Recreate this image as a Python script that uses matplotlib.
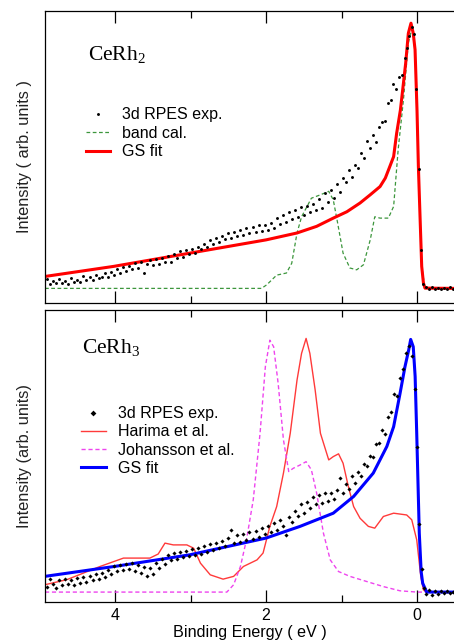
import matplotlib
matplotlib.use('Agg')
import matplotlib.pyplot as plt
from matplotlib.ticker import FixedLocator

plt.rcParams['font.family'] = ['Liberation Sans', 'DejaVu Sans']
plt.rcParams['mathtext.fontset'] = 'custom'
plt.rcParams['mathtext.rm'] = 'Liberation Serif'

""" CeRh2 (top panel) - intensities in arb. units, peak ~ 100 """
rh2_fit_E = [4.93, 4.02, 3.01, 2.00, 1.59, 1.33, 1.11, 0.93, 0.755, 0.62, 0.49, 0.42, 0.36, 0.31,
             0.27, 0.22, 0.18, 0.15, 0.115, 0.08, 0.05, 0.026, 0.0, -0.018, -0.04, -0.062, -0.085,
             -0.106, -0.49]
rh2_fit_I = [4.5, 8.3, 13.3, 18.3, 20.9, 23.4, 26.5, 28.9, 32.2, 35.3, 38.4, 41.6, 46.0, 49.7,
             58.5, 67.3, 77.4, 85.0, 96.2, 100.0, 96.2, 90.0, 67.0, 46.0, 27.0, 8.3, 2.0,
             0.1, 0.0]

rh2_band_E = [4.93, 2.06, 1.99, 1.86, 1.73, 1.66, 1.59, 1.53, 1.40, 1.28, 1.17, 1.11, 1.06, 0.98,
              0.89, 0.80, 0.71, 0.62, 0.56, 0.49, 0.38, 0.31, 0.25, 0.18, 0.115, 0.07, 0.026,
              -0.018, -0.062, -0.106, -0.49]
rh2_band_I = [0.0, 0.0, 1.4, 5.0, 5.8, 9.5, 20.9, 27.0, 34.0, 35.3, 36.6, 33.4, 25.9, 13.3,
              7.7, 7.0, 8.9, 18.3, 27.0, 26.5, 26.5, 30.9, 52.3, 71.1, 92.5, 98.0, 90.0,
              46.0, 8.3, 0.0, 0.0]

rh2_exp_E = [4.90, 4.86, 4.82, 4.78, 4.74, 4.70, 4.66, 4.62, 4.58, 4.54, 4.50, 4.46, 4.42, 4.38,
             4.34, 4.30, 4.26, 4.22, 4.18, 4.14, 4.10, 4.06, 4.02, 3.98, 3.94, 3.90, 3.86, 3.82,
             3.78, 3.74, 3.70, 3.66, 3.62, 3.58, 3.54, 3.50, 3.46, 3.42, 3.38, 3.34, 3.30, 3.26,
             3.22, 3.18, 3.14, 3.10, 3.06, 3.02, 2.98, 2.94, 2.90, 2.86, 2.82, 2.78, 2.74, 2.70,
             2.66, 2.62, 2.58, 2.54, 2.50, 2.46, 2.42, 2.38, 2.34, 2.30, 2.26, 2.22, 2.18, 2.14,
             2.10, 2.06, 2.02, 1.98, 1.94, 1.90, 1.86, 1.82, 1.78, 1.74, 1.70, 1.66, 1.62, 1.58,
             1.54, 1.50, 1.46, 1.42, 1.38, 1.34, 1.30, 1.26, 1.22, 1.18, 1.14, 1.10, 1.06, 1.02,
             0.98, 0.94, 0.90, 0.86, 0.82, 0.78, 0.74, 0.70, 0.66, 0.62, 0.58, 0.54, 0.50, 0.46,
             0.42, 0.38, 0.35, 0.32, 0.28, 0.24, 0.20, 0.16, 0.13, 0.10, 0.07, 0.04, 0.01, -0.02,
             -0.05, -0.08, -0.12, -0.16, -0.20, -0.24, -0.28, -0.32, -0.36, -0.40, -0.44, -0.48]
rh2_exp_I = [3.5, 1.8, 2.9, 1.9, 3.6, 2.2, 2.8, 1.7, 3.9, 2.4, 3.3, 2.5, 4.6, 3.1,
             4.4, 3.0, 5.2, 3.8, 4.2, 5.9, 4.3, 6.3, 5.1, 7.2, 5.8, 7.9, 6.6, 8.6,
             7.3, 9.4, 7.6, 9.8, 5.9, 9.1, 10.6, 8.7, 10.9, 9.3, 11.4, 9.9, 12.2, 10.0,
             12.8, 11.6, 14.1, 12.0, 14.5, 13.0, 15.0, 13.4, 15.6, 14.8, 16.9, 15.5, 18.3, 16.6,
             19.0, 17.4, 19.8, 18.6, 20.7, 18.9, 21.4, 19.6, 22.0, 20.2, 22.6, 21.0, 23.1, 21.3,
             23.8, 21.8, 23.9, 22.1, 24.8, 22.9, 26.4, 24.3, 27.6, 25.2, 28.8, 26.0, 29.5, 27.0,
             30.6, 27.6, 31.2, 28.7, 32.0, 29.4, 33.6, 30.2, 35.8, 32.4, 37.0, 34.2, 39.2, 36.4,
             41.6, 40.0, 44.6, 42.0, 46.6, 45.4, 50.9, 49.0, 55.6, 52.8, 57.8, 55.2, 60.9, 62.8,
             63.2, 69.8, 71.0, 77.0, 75.0, 79.8, 80.5, 87.0, 90.8, 95.0, 98.6, 96.0, 75.0, 45.0,
             14.6, 1.5, 0.4, -0.3, 0.5, -0.2, 0.3, -0.4, 0.2, -0.3, 0.4, -0.1]

""" CeRh3 (bottom panel) """
rh3_fit_E = [4.93, 4.01, 3.01, 2.00, 1.55, 1.11, 0.84, 0.58, 0.40, 0.31, 0.225, 0.16, 0.11,
             0.084, 0.05, 0.025, 0.004, -0.03, -0.055, -0.075, -0.128, -0.49]
rh3_fit_I = [6.2, 10.1, 14.7, 21.3, 25.9, 31.1, 37.7, 46.9, 57.4, 65.2, 78.3, 88.8, 95.5,
             99.6, 96.7, 85.0, 62.6, 23.2, 8.0, 3.5, 0.0, 0.0]

harima_E = [4.93, 4.64, 4.20, 3.89, 3.54, 3.43, 3.34, 3.23, 3.05, 2.96, 2.87, 2.74, 2.57, 2.43,
            2.30, 2.12, 2.04, 1.95, 1.86, 1.77, 1.68, 1.59, 1.53, 1.47, 1.42, 1.35, 1.28, 1.17,
            1.11, 1.04, 0.98, 0.91, 0.84, 0.755, 0.645, 0.56, 0.446, 0.31, 0.137, 0.07, 0.004,
            -0.05, -0.084, -0.12, -0.49]
harima_I = [2.9, 4.9, 10.1, 13.4, 13.4, 15.0, 19.3, 18.6, 18.6, 17.3, 11.4, 6.8, 5.1, 6.2,
            10.1, 12.7, 15.4, 25.9, 33.7, 46.9, 62.6, 83.6, 94.1, 100.0, 94.1, 79.7, 62.6, 52.1,
            53.4, 54.5, 50.8, 41.6, 33.7, 29.1, 25.9, 25.2, 29.8, 31.1, 30.4, 28.5, 20.6,
            6.2, 0.9, 0.0, 0.0]

johansson_E = [4.93, 2.52, 2.43, 2.34, 2.26, 2.17, 2.08, 2.01, 1.95, 1.90, 1.84, 1.77, 1.70,
               1.64, 1.55, 1.47, 1.40, 1.33, 1.24, 1.15, 1.04, 0.89, 0.67, 0.45, 0.225, 0.0, -0.49]
johansson_I = [0.0, 0.0, 2.9, 10.1, 20.6, 36.4, 62.6, 88.8, 99.3, 96.7, 82.2, 60.0, 47.5,
               48.8, 50.1, 51.4, 48.2, 39.0, 23.2, 12.7, 8.1, 6.2, 4.2, 2.2, 0.5, 0.0, 0.0]

rh3_exp_E = [4.90, 4.86, 4.82, 4.78, 4.74, 4.70, 4.66, 4.62, 4.58, 4.54, 4.50, 4.46, 4.42, 4.38,
             4.34, 4.30, 4.26, 4.22, 4.18, 4.14, 4.10, 4.06, 4.02, 3.98, 3.94, 3.90, 3.86, 3.82,
             3.78, 3.74, 3.70, 3.66, 3.62, 3.58, 3.54, 3.50, 3.46, 3.42, 3.38, 3.34, 3.30, 3.26,
             3.22, 3.18, 3.14, 3.10, 3.06, 3.02, 2.98, 2.94, 2.90, 2.86, 2.82, 2.78, 2.74, 2.70,
             2.66, 2.62, 2.58, 2.54, 2.50, 2.46, 2.42, 2.38, 2.34, 2.30, 2.26, 2.22, 2.18, 2.14,
             2.10, 2.06, 2.02, 1.98, 1.94, 1.90, 1.86, 1.82, 1.78, 1.74, 1.70, 1.66, 1.62, 1.58,
             1.54, 1.50, 1.46, 1.42, 1.38, 1.34, 1.30, 1.26, 1.22, 1.18, 1.14, 1.10, 1.06, 1.02,
             0.98, 0.94, 0.90, 0.86, 0.82, 0.78, 0.74, 0.70, 0.66, 0.62, 0.58, 0.54, 0.50, 0.46,
             0.42, 0.38, 0.34, 0.30, 0.26, 0.22, 0.18, 0.14, 0.10, 0.06, 0.03, 0.00, -0.03, -0.06,
             -0.09, -0.12, -0.16, -0.20, -0.24, -0.28, -0.32, -0.36, -0.40, -0.44, -0.48]
rh3_exp_I = [2.0, 5.1, 3.0, 1.8, 4.6, 2.6, 5.0, 3.2, 4.9, 2.9, 5.6, 3.6, 6.0, 4.0,
             6.5, 4.6, 7.0, 5.3, 7.6, 5.8, 8.9, 7.0, 10.1, 8.2, 10.8, 8.6, 11.2, 9.0,
             11.4, 8.3, 10.6, 7.5, 9.9, 6.4, 9.6, 7.2, 11.6, 9.3, 13.1, 11.2, 14.6, 12.5,
             15.3, 13.2, 15.9, 13.8, 16.3, 14.2, 16.9, 14.8, 17.2, 15.1, 18.0, 15.9, 18.8, 16.7,
             19.4, 17.2, 20.0, 18.1, 21.2, 24.5, 19.3, 22.4, 19.9, 23.0, 20.6, 23.6, 21.0, 24.1,
             21.7, 25.4, 22.9, 26.0, 23.5, 27.1, 24.6, 28.3, 25.9, 22.6, 29.7, 27.8, 32.0, 30.1,
             34.6, 31.3, 35.5, 33.0, 37.6, 34.8, 38.4, 35.2, 38.9, 36.0, 39.2, 36.6, 40.4, 44.9,
             39.0, 42.8, 40.5, 45.6, 43.1, 47.5, 45.8, 50.3, 49.6, 53.6, 53.4, 58.5, 58.7, 63.8,
             62.5, 68.9, 71.0, 78.0, 77.2, 84.5, 88.0, 94.2, 97.2, 93.0, 80.0, 57.0, 27.0, 9.0,
             1.6, -0.8, 0.9, -1.2, 0.4, -0.6, 0.5, -0.3, 0.6, -0.4, 0.2]

tick_major = [4, 2, 0]
tick_minor = [3, 1]

fig = plt.figure(figsize=(4.54, 6.43), dpi=100)
ax1 = fig.add_axes([0.0991, 0.5288, 0.9009, 0.4541])
ax2 = fig.add_axes([0.0991, 0.0638, 0.9009, 0.4541])

# top panel
ax1.plot(rh2_band_E, rh2_band_I, color='#3c963c', lw=0.9, dashes=(3, 2), label='band cal.')
ax1.plot(rh2_fit_E, rh2_fit_I, color='#ff0000', lw=2.2, label='GS fit')
ax1.plot(rh2_exp_E, rh2_exp_I, 'o', color='k', ms=2.1, mew=0, label='3d RPES exp.', zorder=5)
ax1.set_ylim(-5.5, 104.6)
ax1.text(0.105, 0.832, r'CeRh$_\mathrm{2}$', transform=ax1.transAxes, fontsize=15.5,
         family='Liberation Serif', va='baseline')
h, l = ax1.get_legend_handles_labels()
ax1.legend([h[2], h[0], h[1]], [l[2], l[0], l[1]], loc='upper left', bbox_to_anchor=(0.08, 0.697),
           frameon=False, fontsize=11.5, numpoints=1, borderpad=0, labelspacing=0.22,
           handlelength=1.55, handletextpad=0.75, markerscale=1.0)
ax1.set_ylabel('Intensity ( arb. units )', fontsize=11.8)

# bottom panel
ax2.plot(harima_E, harima_I, color='#ff3a3a', lw=1.0, label='Harima et al.')
ax2.plot(johansson_E, johansson_I, color='#ee44ee', lw=1.0, dashes=(3, 2), label='Johansson et al.')
ax2.plot(rh3_fit_E, rh3_fit_I, color='#0000ff', lw=2.2, label='GS fit')
ax2.plot(rh3_exp_E, rh3_exp_I, 'D', color='k', ms=2.1, mew=0, label='3d RPES exp.', zorder=5)
ax2.set_ylim(-3.9, 111.2)
ax2.text(0.09, 0.853, r'CeRh$_\mathrm{3}$', transform=ax2.transAxes, fontsize=15.5,
         family='Liberation Serif', va='baseline')
h, l = ax2.get_legend_handles_labels()
ax2.legend([h[3], h[0], h[1], h[2]], [l[3], l[0], l[1], l[2]], loc='upper left',
           bbox_to_anchor=(0.068, 0.697), frameon=False, fontsize=11.5, numpoints=1, borderpad=0,
           labelspacing=0.19, handlelength=1.55, handletextpad=0.75, markerscale=1.4)
ax2.set_ylabel('Intensity (arb. units)', fontsize=11.8)
ax2.set_xlabel('Binding Energy ( eV )', fontsize=11.6, labelpad=2)

for ax in (ax1, ax2):
    ax.set_xlim(4.93, -0.49)
    ax.xaxis.set_major_locator(FixedLocator(tick_major))
    ax.xaxis.set_minor_locator(FixedLocator(tick_minor))
    ax.tick_params(axis='x', which='both', direction='in', top=True, bottom=True, width=0.9)
    ax.tick_params(axis='x', which='major', length=8.5, labelsize=11.5, pad=4)
    ax.tick_params(axis='x', which='minor', length=5)
    ax.tick_params(axis='y', left=False, labelleft=False)
    ax.spines['right'].set_visible(False)
    for s in ('left', 'top', 'bottom'):
        ax.spines[s].set_linewidth(0.9)
    ax.yaxis.set_label_coords(-0.032, 0.5)
    ax.yaxis.label.set_color('#222222')

ax1.tick_params(axis='x', labelbottom=False)

fig.savefig('out.png', dpi=100)
